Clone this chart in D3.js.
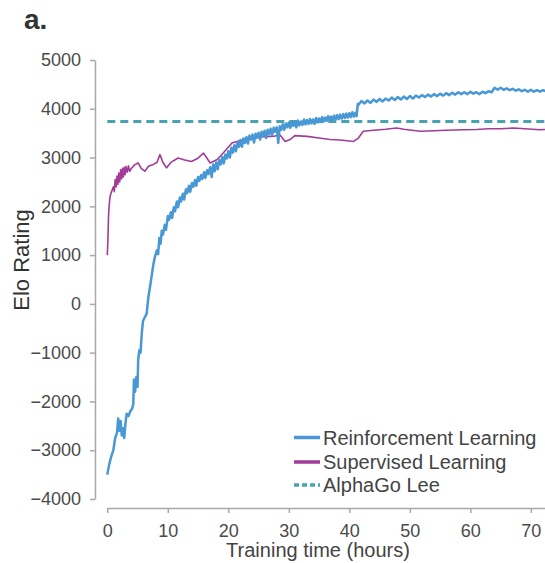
<!DOCTYPE html>
<html><head><meta charset="utf-8">
<script src="https://cdn.jsdelivr.net/npm/d3@7"></script>
<style>
body{margin:0;background:#fff}
text{font-family:"Liberation Sans",Arial,Helvetica,sans-serif}
</style>
</head><body>
<svg id="c" width="545" height="563"></svg>
<script>
// ---- data ----
const rlHours=[0,0.3,0.6,1.0,1.3,1.6,1.8,2.0,2.2,2.4,2.6,2.8,3.0,3.2,3.5,3.8,4.1,4.3,4.4,4.6,4.8,5.0,5.1,5.3,5.5,5.7,5.9,6.1,6.3,6.5,6.8,7.0,7.3,7.6,7.9,
 8.2,8.4,8.6,8.8,9.0,9.2,9.5,9.7,10.0,10.2,10.5,10.7,11.0,11.2,11.5,11.7,12.0,12.2,12.5,12.7,13.0,13.2,13.5,13.7,14.0,14.2,14.5,14.7,15.0,15.2,15.5,15.7,16.0,16.2,16.5,16.7,
 17.0,17.25,17.5,17.75,18.0,18.25,18.5,18.75,19.0,19.25,19.5,19.75,20.0,20.25,20.5,20.75,21.0,21.25,21.5,21.75,22.0,22.25,22.5,22.75,23.0,23.25,23.5,23.75,24.0,24.25,24.5,24.75,
 25.0,25.25,25.5,25.75,26.0,26.25,26.5,26.75,27.0,27.25,27.5,27.75,28.0,28.25,28.5,28.75,29.0,29.25,29.5,29.75,30.0,30.25,30.5,30.75,31.0,31.25,31.5,31.75,32.0,32.25,32.5,32.75,
 33.0,33.25,33.5,33.75,34.0,34.25,34.5,34.75,35.0,35.25,35.5,35.75,36.0,36.25,36.5,36.75,37.0,37.25,37.5,37.75,38.0,38.25,38.5,38.75,39.0,39.25,39.5,39.75,40.0,40.25,40.5,40.75,41.0,41.2,
 41.4,41.5,42,42.5,43,43.5,44,44.5,45,45.5,46,46.5,47,47.5,48,48.5,49,49.5,50,50.5,51,51.5,52,52.5,53,53.5,54,54.5,55,55.5,56,56.5,57,57.5,58,58.5,59,59.5,60,60.5,
 61,61.5,62,62.5,63,63.5,64,64.5,65,65.5,66,66.5,67,67.5,68,68.5,69,69.5,70,70.5,71,71.5,72,72.5];
const rlElo=[-3500,-3300,-3150,-3000,-2750,-2650,-2350,-2600,-2400,-2700,-2550,-2750,-2450,-2250,-2300,-2200,-2150,-2050,-1550,-1800,-1500,-1700,-1150,-950,-1000,-600,-350,-300,-250,-200,150,300,550,800,980,
 1100,1020,1350,1230,1500,1420,1620,1520,1800,1720,1880,1760,1980,1900,2100,1980,2180,2100,2260,2140,2350,2270,2420,2300,2480,2400,2540,2420,2600,2520,2640,2560,2700,2580,2740,2660,
 2800,2600,2860,2720,2900,2760,2950,2860,3010,2880,3060,2980,3130,3000,3200,3100,3250,3130,3310,3220,3360,3220,3390,3300,3420,3290,3450,3370,3470,3310,3490,3410,
 3510,3370,3530,3450,3550,3400,3570,3480,3590,3460,3610,3530,3620,3300,3640,3570,3680,3570,3700,3620,3720,3610,3730,3650,3740,3620,3760,3660,3740,3670,3780,3680,
 3770,3690,3790,3700,3780,3690,3810,3720,3800,3730,3830,3740,3820,3750,3850,3760,3840,3770,3860,3780,3870,3790,3880,3800,3890,3810,3900,3820,3910,3830,3930,3840,3920,3850,
 4100,4080,4160,4110,4170,4120,4190,4140,4200,4150,4210,4170,4230,4180,4240,4190,4250,4200,4260,4210,4270,4230,4280,4240,4290,4250,4300,4260,4310,4270,4320,4280,4330,4290,4340,4300,4340,4300,4350,4310,
 4340,4300,4350,4320,4360,4340,4430,4390,4430,4390,4420,4380,4410,4370,4400,4360,4390,4350,4390,4350,4380,4350,4380,4360];

const slHours=[0,0.1,0.2,0.3,0.45,0.7,1.0,1.15,1.3,1.45,1.6,1.75,1.9,2.05,2.2,2.35,2.5,2.65,2.8,2.95,3.1,3.3,3.5,3.7,4.0,4.5,5.1,5.6,6.2,6.8,7.6,8.2,8.7,9.2,9.8,10.5,11.7,12.8,13.9,14.9,15.9,16.5,17.0,18.1,19.2,20.6,22,23,24.4,26,27.7,28.5,29.4,30.2,31,33,35,36.8,38.5,40.7,41.5,42.3,44,46,47.8,49,51.7,54,56,58.8,61,63,65,67.1,69,71.5,72.5];
const slElo=[1000,1300,1800,2000,2200,2300,2400,2300,2550,2400,2620,2450,2680,2500,2750,2560,2780,2600,2800,2650,2820,2700,2830,2720,2780,2850,2890,2780,2720,2820,2860,2900,3060,2900,2790,2900,2990,2950,2920,2980,3090,2980,2890,2955,3100,3300,3350,3380,3400,3430,3440,3470,3330,3370,3450,3435,3400,3370,3360,3330,3400,3540,3560,3580,3605,3580,3540,3550,3560,3570,3575,3590,3590,3605,3590,3570,3575];

const alphaGoLee=3739;
const xTicks=[0,10,20,30,40,50,60,70];
const yTicks=[-4000,-3000,-2000,-1000,0,1000,2000,3000,4000,5000];
const seriesNames=["Reinforcement Learning","Supervised Learning","AlphaGo Lee"];
const seriesColors=["#4898d6","#a23c98","#47a2b2"];

// ---- chart ----
const svg=d3.select("#c");
const x=d3.scaleLinear().domain([0,72.5]).range([107.3,546]);
const y=d3.scaleLinear().domain([-4000,5000]).range([499,60]);

svg.append("text").attr("x",24).attr("y",29).attr("font-size",28).attr("font-weight","bold").attr("fill","#333").text("a.");

const yAx=svg.append("g").attr("transform","translate(95,0)")
  .call(d3.axisLeft(y).tickValues(yTicks).tickFormat(d3.format("d")).tickSize(5).tickSizeOuter(0).tickPadding(9));
const xAx=svg.append("g").attr("transform","translate(0,508)")
  .call(d3.axisBottom(x).tickValues(xTicks).tickFormat(d3.format("d")).tickSize(5).tickSizeOuter(0).tickPadding(11));
[yAx,xAx].forEach(g=>{
  g.selectAll("path,line").attr("stroke","#a8a8a8").attr("stroke-width",1.5);
  g.selectAll("text").attr("font-size",18).attr("fill","#4a4a4a").attr("font-family","'Liberation Sans',Arial,sans-serif");
});

svg.append("text").attr("transform","translate(29,260) rotate(-90)").attr("text-anchor","middle")
  .attr("font-size",22).attr("fill","#333").text("Elo Rating");
svg.append("text").attr("x",318).attr("y",557).attr("text-anchor","middle")
  .attr("font-size",20).attr("fill","#444").text("Training time (hours)");

// AlphaGo Lee dashed line
svg.append("line").attr("x1",x(0)).attr("x2",546).attr("y1",y(alphaGoLee)).attr("y2",y(alphaGoLee))
  .attr("stroke",seriesColors[2]).attr("stroke-width",3).attr("stroke-dasharray","8,5");

const line=d3.line().x(d=>x(d[0])).y(d=>y(d[1]));
svg.append("path").datum(d3.zip(slHours,slElo)).attr("d",line).attr("fill","none")
  .attr("stroke",seriesColors[1]).attr("stroke-width",1.6).attr("stroke-linejoin","round");
svg.append("path").datum(d3.zip(rlHours,rlElo)).attr("d",line).attr("fill","none")
  .attr("stroke",seriesColors[0]).attr("stroke-width",2.5).attr("stroke-linejoin","round");

// legend
const leg=svg.append("g");
const rowY=[437.5,462,485];
seriesNames.forEach((n,i)=>{
  leg.append("line").attr("x1",294).attr("x2",320).attr("y1",rowY[i]).attr("y2",rowY[i])
    .attr("stroke",seriesColors[i]).attr("stroke-width",3.5)
    .attr("stroke-dasharray",i===2?"5,3":null);
  leg.append("text").attr("x",323).attr("y",rowY[i]).attr("dy","0.35em")
    .attr("font-size",20).attr("fill","#444").text(n);
});
</script>
</body></html>
